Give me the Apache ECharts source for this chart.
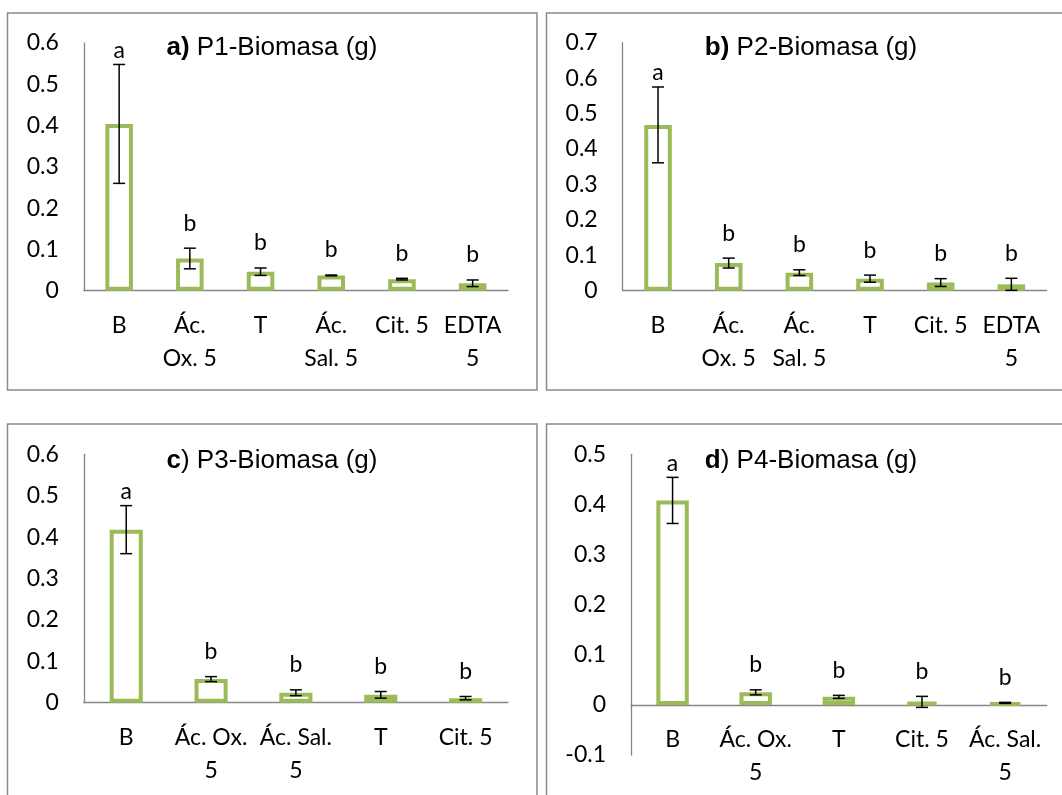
<!DOCTYPE html>
<html>
<head>
<meta charset="utf-8">
<script src="https://cdn.jsdelivr.net/npm/echarts@6/dist/echarts.min.js"></script>
<style>html,body{margin:0;padding:0;background:#fff}#c{width:1062px;height:795px}</style>
</head>
<body>
<div id="c"></div>
<script>
// ---- data ----
const catsA = ['B', 'Ác.\nOx. 5', 'T', 'Ác.\nSal. 5', 'Cit. 5', 'EDTA\n5'];
const meanA = [0.404, 0.078, 0.046, 0.037, 0.028, 0.018];
const errA  = [0.144, 0.025, 0.009, 0.001, 0.002, 0.008];
const letA  = ['a', 'b', 'b', 'b', 'b', 'b'];

const catsB = ['B', 'Ác.\nOx. 5', 'Ác.\nSal. 5', 'T', 'Cit. 5', 'EDTA\n5'];
const meanB = [0.468, 0.078, 0.051, 0.034, 0.023, 0.018];
const errB  = [0.107, 0.014, 0.008, 0.010, 0.011, 0.017];
const letB  = ['a', 'b', 'b', 'b', 'b', 'b'];

const catsC = ['B', 'Ác. Ox.\n5', 'Ác. Sal.\n5', 'T', 'Cit. 5'];
const meanC = [0.418, 0.057, 0.024, 0.019, 0.011];
const errC  = [0.058, 0.006, 0.007, 0.008, 0.004];
const letC  = ['a', 'b', 'b', 'b', 'b'];

const catsD = ['B', 'Ác. Ox.\n5', 'T', 'Cit. 5', 'Ác. Sal.\n5'];
const meanD = [0.408, 0.025, 0.016, 0.006, 0.004];
const errD  = [0.046, 0.005, 0.003, 0.011, 0.001];
const letD  = ['a', 'b', 'b', 'b', 'b'];

const titleA = ['a)', ' P1-Biomasa (g)'];
const titleB = ['b)', ' P2-Biomasa (g)'];
const titleC = ['c', ') P3-Biomasa (g)'];
const titleD = ['d', ') P4-Biomasa (g)'];

const yRangeA = [0, 0.6];
const yRangeB = [0, 0.7];
const yRangeC = [0, 0.6];
const yRangeD = [-0.1, 0.5];

// ---- styles ----
const TICK_FONT = 'Lato';
const TICK_SIZE = 23;
const AXIS_GRAY = '#868686';
const GREEN = '#9BBB59';
const FRAME = '#8a8a8a';
const LABEL_GAP = { a: 2.5, b: 13.5 };

const grids = [
  { left: 83.8, right: 554, top: 43, bottom: 504.3 },
  { left: 622.7, right: 15.3, top: 42.7, bottom: 504.3 },
  { left: 83.8, right: 554, top: 454.3, bottom: 92.3 },
  { left: 631, right: 15.3, top: 454.3, bottom: 40 },
  // label band for panel d: its bottom sits on the zero line of panel d
  { left: 631, right: 15.3, top: 454.3, bottom: 90 }
];

const panels = [
  { cats: catsA, mean: meanA, err: errA, lets: letA, range: yRangeA, title: titleA, tx: 272, ty: 35 },
  { cats: catsB, mean: meanB, err: errB, lets: letB, range: yRangeB, title: titleB, tx: 811, ty: 35 },
  { cats: catsC, mean: meanC, err: errC, lets: letC, range: yRangeC, title: titleC, tx: 272, ty: 447.5 },
  { cats: catsD, mean: meanD, err: errD, lets: letD, range: yRangeD, title: titleD, tx: 811, ty: 447.5 }
];

function errRender(lets) {
  return function (params, api) {
    const i = api.value(0), m = api.value(1), e = api.value(2);
    const top = api.coord([i, m + e]);
    const bot = api.coord([i, m - e]);
    const x = top[0], hw = 6;
    const L = lets[params.dataIndex];
    const st = { stroke: '#000', lineWidth: 1.5 };
    return {
      type: 'group',
      children: [
        { type: 'line', shape: { x1: x, y1: top[1], x2: x, y2: bot[1] }, style: st },
        { type: 'line', shape: { x1: x - hw, y1: top[1], x2: x + hw, y2: top[1] }, style: st },
        { type: 'line', shape: { x1: x - hw, y1: bot[1], x2: x + hw, y2: bot[1] }, style: st },
        { type: 'text', x: x, y: top[1] - LABEL_GAP[L],
          style: { text: L, textAlign: 'center', textVerticalAlign: 'bottom',
                   font: TICK_SIZE + 'px ' + TICK_FONT, fill: '#000' } }
      ]
    };
  };
}

const catLabel = { interval: 0, color: '#000', fontFamily: TICK_FONT, fontSize: TICK_SIZE,
                   lineHeight: 33, margin: 18 };

const xAxes = panels.map((p, k) => ({
  type: 'category', gridIndex: k, data: p.cats,
  axisLine: { show: true, onZero: true, lineStyle: { color: AXIS_GRAY, width: 1.3 } },
  axisTick: { show: false },
  splitLine: { show: false },
  axisLabel: Object.assign({}, catLabel, { show: k !== 3 })
}));
xAxes.push({
  type: 'category', gridIndex: 4, data: catsD,
  axisLine: { show: false }, axisTick: { show: false }, splitLine: { show: false },
  axisLabel: catLabel
});

const yAxes = panels.map((p, k) => ({
  type: 'value', gridIndex: k, min: p.range[0], max: p.range[1], interval: 0.1,
  axisLine: { show: true, lineStyle: { color: AXIS_GRAY, width: 1.3 } },
  axisTick: { show: false },
  splitLine: { show: false },
  axisLabel: { color: '#000', fontFamily: TICK_FONT, fontSize: TICK_SIZE, margin: 25,
               formatter: v => String(Math.round(v * 10) / 10) }
}));
yAxes.push({ type: 'value', gridIndex: 4, min: 0, max: 0.5, show: false });

const option = {
  animation: false,
  backgroundColor: '#fff',
  grid: grids.map(g => Object.assign({ containLabel: false, outerBoundsMode: 'none' }, g)),
  title: panels.map(p => ({
    text: '{b|' + p.title[0] + '}{n|' + p.title[1] + '}',
    left: p.tx, top: p.ty, textAlign: 'center', padding: 0,
    textStyle: {
      fontFamily: 'Liberation Sans', fontSize: 26, fontWeight: 'normal', color: '#000',
      rich: {
        b: { fontFamily: 'Liberation Sans', fontSize: 26, fontWeight: 'bold', color: '#000' },
        n: { fontFamily: 'Liberation Sans', fontSize: 26, fontWeight: 'normal', color: '#000' }
      }
    }
  })),
  xAxis: xAxes,
  yAxis: yAxes,
  series: [].concat(...panels.map((p, k) => [
    {
      type: 'bar', xAxisIndex: k, yAxisIndex: k, data: p.mean, barWidth: '39%',
      itemStyle: { color: '#fff', borderColor: GREEN, borderWidth: 4 },
      z: 2
    },
    {
      type: 'custom', xAxisIndex: k, yAxisIndex: k, clip: false, z: 5,
      data: p.mean.map((m, i) => [i, m, p.err[i]]),
      encode: { x: 0, y: 1 },
      renderItem: errRender(p.lets)
    }
  ])),
  graphic: [
    { type: 'rect', shape: { x: 7.5, y: 13, width: 529.5, height: 377 }, style: { fill: 'none', stroke: FRAME, lineWidth: 1.5 }, z: -1 },
    { type: 'rect', shape: { x: 546.5, y: 13, width: 600, height: 377 }, style: { fill: 'none', stroke: FRAME, lineWidth: 1.5 }, z: -1 },
    { type: 'rect', shape: { x: 7.5, y: 424, width: 529.5, height: 420 }, style: { fill: 'none', stroke: FRAME, lineWidth: 1.5 }, z: -1 },
    { type: 'rect', shape: { x: 546.5, y: 424, width: 600, height: 420 }, style: { fill: 'none', stroke: FRAME, lineWidth: 1.5 }, z: -1 }
  ]
};

const chart = echarts.init(document.getElementById('c'), null, { renderer: 'canvas', width: 1062, height: 795 });
chart.setOption(option);
</script>
</body>
</html>
